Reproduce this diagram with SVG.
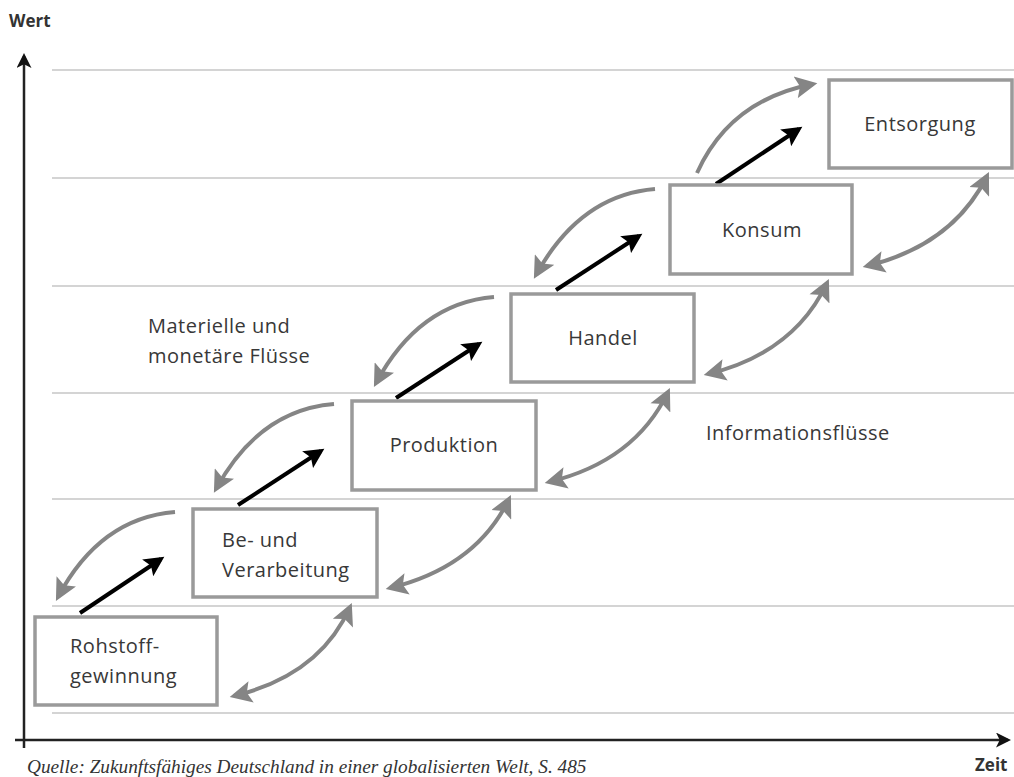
<svg xmlns="http://www.w3.org/2000/svg" width="1014" height="777" viewBox="0 0 1014 777">
<defs>
<marker id="hb" viewBox="0 0 10 10" refX="8" refY="5" markerWidth="5.5" markerHeight="5" orient="auto" markerUnits="strokeWidth"><path d="M0,0 L10,5 L0,10 L2,5 Z" fill="#000"/></marker>
<marker id="hg" viewBox="0 0 10 10" refX="8" refY="5" markerWidth="6" markerHeight="5.5" orient="auto-start-reverse" markerUnits="strokeWidth"><path d="M0,0 L10,5 L0,10 L2,5 Z" fill="#858585"/></marker>
<marker id="ha" viewBox="0 0 10 10" refX="8" refY="5" markerWidth="7" markerHeight="6" orient="auto" markerUnits="strokeWidth"><path d="M0,0 L10,5 L0,10 L2.5,5 Z" fill="#111"/></marker>
<style>
.grid{stroke:#d4d4d4;stroke-width:2}
.box{fill:#fff;stroke:#9a9a9a;stroke-width:3.5}
.lbl{font-family:"Open Sans","Liberation Sans",sans-serif;font-size:20px;letter-spacing:0.5px;font-weight:500;fill:#383838}
.blk{stroke:#000;stroke-width:4;fill:none;marker-end:url(#hb)}
.arc{stroke:#858585;stroke-width:4;fill:none;marker-end:url(#hg)}
.dbl{stroke:#858585;stroke-width:4;fill:none;marker-end:url(#hg);marker-start:url(#hg)}
.axis{stroke:#222;stroke-width:2.5;fill:none;marker-end:url(#ha)}
.ax{font-family:"Open Sans","Liberation Sans",sans-serif;font-size:17px;font-weight:bold;fill:#333}
</style>
</defs>
<g id="grid">
<line class="grid" x1="52" y1="70" x2="1014" y2="70"/>
<line class="grid" x1="52" y1="178" x2="1014" y2="178"/>
<line class="grid" x1="52" y1="286" x2="1014" y2="286"/>
<line class="grid" x1="52" y1="393" x2="1014" y2="393"/>
<line class="grid" x1="52" y1="499" x2="1014" y2="499"/>
<line class="grid" x1="52" y1="606" x2="1014" y2="606"/>
<line class="grid" x1="52" y1="713" x2="1014" y2="713"/>
</g>
<g id="axes">
<line class="axis" x1="24" y1="748" x2="24" y2="56"/>
<line class="axis" x1="15" y1="740" x2="1008" y2="740"/>
<text class="ax" x="9" y="27">Wert</text>
<text class="ax" x="975" y="771" font-size="16">Zeit</text>
</g>
<g id="connectors">
<line class="blk" x1="80" y1="613" x2="161" y2="559"/>
<line class="blk" x1="238" y1="505" x2="321" y2="451"/>
<line class="blk" x1="396" y1="398" x2="479" y2="344"/>
<line class="blk" x1="556" y1="290" x2="639" y2="236"/>
<line class="blk" x1="716" y1="184" x2="799" y2="129"/>
<path class="arc" d="M175,512 Q100,518 58,597"/>
<path class="arc" d="M334,404 Q259,410 216,489"/>
<path class="arc" d="M494,297 Q419,303 376,383"/>
<path class="arc" d="M655,189 Q580,195 536,275"/>
<path class="arc" d="M697,173 Q730,100 813,84"/>
<path class="dbl" d="M234,696 Q320,675 350,607"/>
<path class="dbl" d="M390,588 Q476,567 509,499"/>
<path class="dbl" d="M549,482 Q635,461 668,392"/>
<path class="dbl" d="M708,374 Q794,353 827,283"/>
<path class="dbl" d="M867,266 Q953,245 987,176"/>
</g>
<g id="n1"><rect class="box" x="35" y="617" width="182" height="88"/><text class="lbl" x="70" y="653">Rohstoff-</text><text class="lbl" x="70" y="683">gewinnung</text></g>
<g id="n2"><rect class="box" x="193" y="509" width="184" height="88"/><text class="lbl" x="222" y="547">Be- und</text><text class="lbl" x="222" y="577">Verarbeitung</text></g>
<g id="n3"><rect class="box" x="352" y="401" width="184" height="89"/><text class="lbl" x="444" y="452" text-anchor="middle">Produktion</text></g>
<g id="n4"><rect class="box" x="511" y="294" width="183" height="88"/><text class="lbl" x="603" y="345" text-anchor="middle">Handel</text></g>
<g id="n5"><rect class="box" x="670" y="185" width="182" height="89"/><text class="lbl" x="762" y="237" text-anchor="middle">Konsum</text></g>
<g id="n6"><rect class="box" x="829" y="80" width="183" height="88"/><text class="lbl" x="920" y="131" text-anchor="middle">Entsorgung</text></g>
<g id="labels">
<text class="lbl" x="148" y="333">Materielle und</text>
<text class="lbl" x="148" y="363">monetäre Flüsse</text>
<text class="lbl" x="706" y="440">Informationsflüsse</text>
<text x="27" y="773" font-family="'Liberation Serif',serif" font-style="italic" font-size="19.3" fill="#333">Quelle: Zukunftsfähiges Deutschland in einer globalisierten Welt, S. 485</text>
</g>
</svg>
